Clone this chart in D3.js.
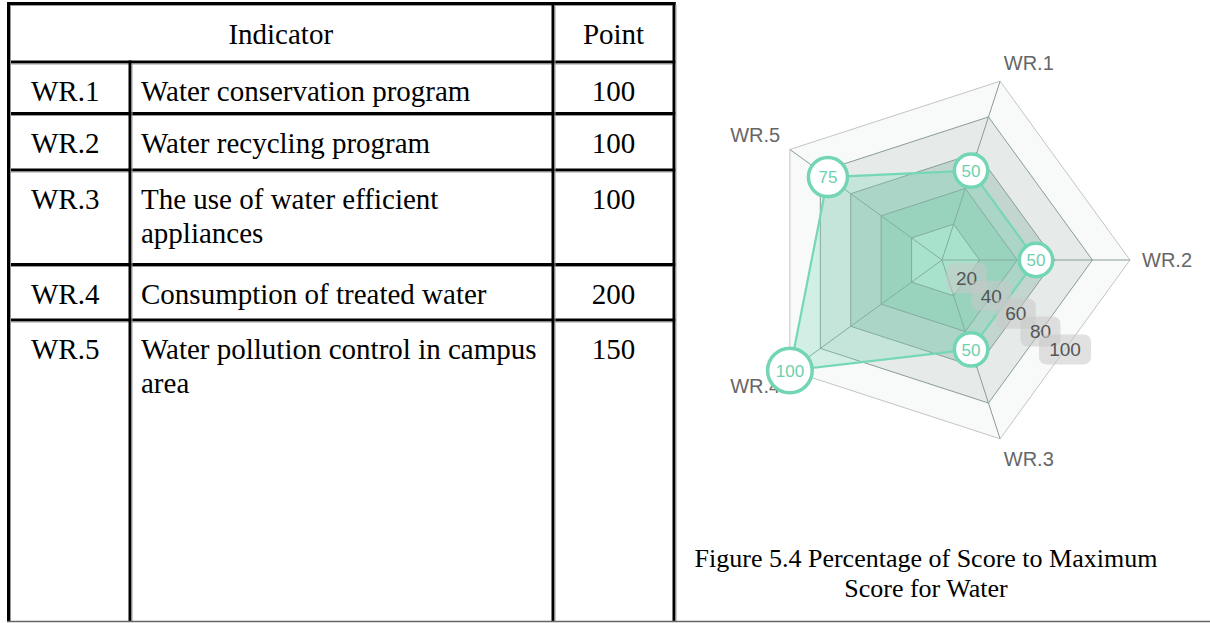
<!doctype html>
<html lang="en">
<head>
    <meta charset="UTF-8">
    <title>Water indicators</title>
    <style>
        html, body { margin: 0; padding: 0; background: #fff; }
        svg { display: block; }
    </style>
</head>
<body>
    <svg id="chart" width="1210" height="623"></svg>
    <script src="https://cdn.jsdelivr.net/npm/d3@7"></script>
    <script>
        // table + radar data
        const codes = ['WR.1', 'WR.2', 'WR.3', 'WR.4', 'WR.5']
        const indicators = [
            'Water conservation program',
            'Water recycling program',
            'The use of water efficient\nappliances',
            'Consumption of treated water',
            'Water pollution control in campus\narea'
        ]
        const points = [100, 100, 100, 200, 150]
        const scores = [50, 50, 50, 100, 75]
        const levels = [20, 40, 60, 80, 100]
        const caption = ['Figure 5.4 Percentage of Score to Maximum', 'Score for Water']

        const svg = d3.select('#chart')
        const serif = '"Liberation Serif", "Times New Roman", serif'
        const sans = '"Liberation Sans", Arial, sans-serif'

        // ---------- table ----------
        const colX = [8.5, 130, 553, 674]
        const rowY = [3.5, 62, 113.5, 170, 264.5, 320, 622]

        const table = svg.append('g')

        // horizontal rules
        rowY.slice(0, -1).forEach(y => {
            table.append('line')
                .attr('x1', colX[0] - 1.5).attr('x2', colX[3] + 1.5)
                .attr('y1', y).attr('y2', y)
                .attr('stroke', '#000').attr('stroke-width', 3)
            table.append('line')
                .attr('x1', colX[0] + 1.5).attr('x2', colX[3] - 1.5)
                .attr('y1', y + 2).attr('y2', y + 2)
                .attr('stroke', '#999').attr('stroke-width', 1)
        })
        // vertical rules
        colX.forEach((x, i) => {
            const top = i === 1 ? rowY[1] : rowY[0]
            table.append('line')
                .attr('x1', x).attr('x2', x)
                .attr('y1', top - 1.5).attr('y2', 622)
                .attr('stroke', '#000').attr('stroke-width', 3)
            table.append('line')
                .attr('x1', x + 2).attr('x2', x + 2)
                .attr('y1', top + 1.5).attr('y2', 622)
                .attr('stroke', '#999').attr('stroke-width', 1)
        })
        // bottom line spans the whole page
        svg.append('line')
            .attr('x1', colX[0] - 1.5).attr('x2', 1210)
            .attr('y1', 621.5).attr('y2', 621.5)
            .attr('stroke', '#666').attr('stroke-width', 1.5)

        const cellText = (x, y, txt, anchor) => table.append('text')
            .attr('x', x).attr('y', y)
            .attr('text-anchor', anchor)
            .attr('font-family', serif).attr('font-size', 29)
            .attr('fill', '#000')
            .text(txt)

        cellText((colX[0] + colX[2]) / 2, rowY[0] + 40, 'Indicator', 'middle')
        cellText((colX[2] + colX[3]) / 2, rowY[0] + 40, 'Point', 'middle')

        codes.forEach((c, i) => {
            const base = rowY[i + 1] + 39
            cellText(31, base, c, 'start')
            indicators[i].split('\n').forEach((line, k) => {
                cellText(141, base + k * 34, line, 'start')
            })
            cellText((colX[2] + colX[3]) / 2, base, points[i], 'middle')
        })

        // ---------- radar ----------
        const cx = 942, cy = 260, R = 188
        const g = svg.append('g').attr('transform', `translate(${cx},${cy})`)

        const r = d3.scaleLinear().domain([0, 100]).range([0, R])
        const step = 2 * Math.PI / codes.length
        const angle = i => Math.PI / 10 + i * step   // WR.1 sits 18deg right of north
        const pt = (i, v) => [r(v) * Math.sin(angle(i)), -r(v) * Math.cos(angle(i))]

        const ring = d3.lineRadial()
            .angle((d, i) => angle(i))
            .radius(d => r(d))
            .curve(d3.curveLinearClosed)

        // band fills, outer to inner
        const bandFill = ['#f8f9f9', '#e6ebe9', '#c3d5cf', '#a9d2c2', '#bfe6d6']
        levels.slice().reverse().forEach((lv, k) => {
            g.append('path')
                .attr('d', ring(codes.map(() => lv)))
                .attr('fill', bandFill[k])
                .attr('stroke', lv === 100 ? '#c4c4c4' : '#8a9c96')
                .attr('stroke-width', 1)
        })

        // spokes
        g.selectAll('line.spoke')
            .data(codes)
            .join('line')
            .attr('class', 'spoke')
            .attr('x1', 0).attr('y1', 0)
            .attr('x2', (d, i) => pt(i, 100)[0])
            .attr('y2', (d, i) => pt(i, 100)[1])
            .attr('stroke', '#8a9c96')
            .attr('stroke-width', 1)

        // data polygon
        g.append('path')
            .attr('d', ring(scores))
            .attr('fill', 'rgba(110, 214, 180, 0.28)')
            .attr('stroke', '#76d7b6')
            .attr('stroke-width', 2.2)

        // tick labels at the mid-point of the WR.2-WR.3 edge
        const ticks = g.selectAll('g.tick')
            .data(levels)
            .join('g')
            .attr('class', 'tick')
            .attr('transform', d => {
                const a = pt(1, d), b = pt(2, d)
                return `translate(${(a[0] + b[0]) / 2},${(a[1] + b[1]) / 2})`
            })
        ticks.append('rect')
            .attr('x', d => d === 100 ? -26 : -20)
            .attr('width', d => d === 100 ? 52 : 40)
            .attr('y', -15).attr('height', 30)
            .attr('rx', 7)
            .attr('fill', 'rgba(200, 200, 200, 0.55)')
        ticks.append('text')
            .attr('text-anchor', 'middle')
            .attr('dy', '0.36em')
            .attr('font-family', sans).attr('font-size', 19)
            .attr('fill', '#555')
            .text(d => d)

        // axis labels
        g.selectAll('text.axis')
            .data(codes)
            .join('text')
            .attr('class', 'axis')
            .attr('font-family', sans).attr('font-size', 20)
            .attr('fill', '#666')
            .each(function (d, i) {
                const a = angle(i), s = Math.sin(a), c = Math.cos(a)
                const x = (R + 12) * s, y = -(R + 12) * c
                d3.select(this)
                    .attr('x', x).attr('y', y)
                    .attr('text-anchor', s > 0.05 ? 'start' : s < -0.05 ? 'end' : 'middle')
                    .attr('dy', c > 0.05 ? '0em' : c < -0.05 ? '0.78em' : '0.36em')
                    .text(d)
            })

        // value markers
        const markR = d3.scaleLinear().domain([0, 100]).range([11.1, 22.3])
        const marks = g.selectAll('g.mark')
            .data(scores)
            .join('g')
            .attr('class', 'mark')
            .attr('transform', (d, i) => `translate(${pt(i, d)})`)
        marks.append('circle')
            .attr('r', d => markR(d))
            .attr('fill', '#fff')
            .attr('stroke', '#72d6b4')
            .attr('stroke-width', 3.5)
        marks.append('text')
            .attr('text-anchor', 'middle')
            .attr('dy', '0.36em')
            .attr('font-family', sans).attr('font-size', 17)
            .attr('fill', '#6dd0ae')
            .text(d => d)

        // caption
        svg.append('g')
            .selectAll('text')
            .data(caption)
            .join('text')
            .attr('x', 926)
            .attr('y', (d, i) => 567 + i * 30)
            .attr('text-anchor', 'middle')
            .attr('font-family', serif).attr('font-size', 26)
            .attr('fill', '#000')
            .text(d => d)
    </script>
</body>
</html>
